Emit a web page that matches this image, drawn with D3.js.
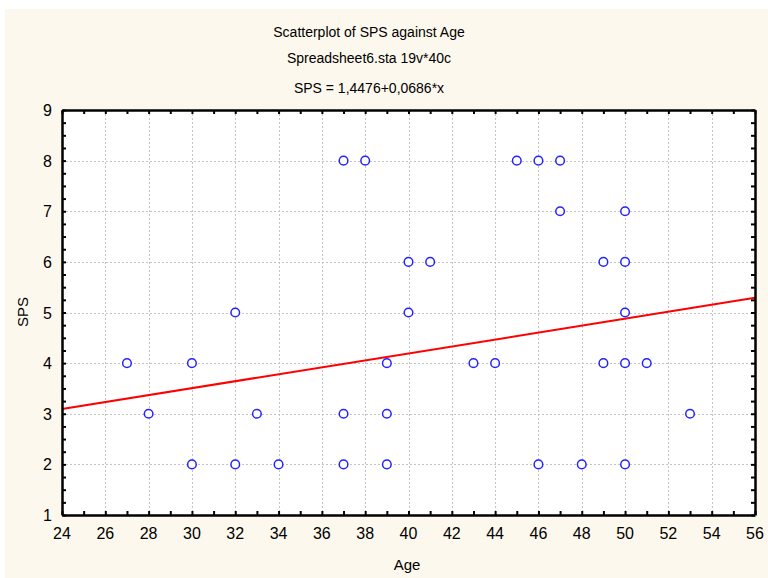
<!DOCTYPE html>
<html>
<head>
<meta charset="utf-8">
<script src="https://cdn.jsdelivr.net/npm/d3@7"></script>
<style>
  html, body { margin: 0; padding: 0; background: #ffffff; }
  svg { display: block; }
  text { font-family: "Liberation Sans", Arial, sans-serif; fill: #000; }
</style>
</head>
<body>
<script>
// Age / SPS observations
const age = [27, 28, 30, 30, 32, 32, 33, 34, 37, 38, 37, 37, 39, 39, 39, 40, 41, 40,
             43, 44, 45, 46, 47, 47, 46, 48, 49, 50, 50, 50, 49, 50, 51, 50, 53];
const sps = [4, 3, 4, 2, 5, 2, 3, 2, 8, 8, 3, 2, 4, 3, 2, 6, 6, 5,
             4, 4, 8, 8, 8, 7, 2, 2, 6, 7, 6, 5, 4, 4, 4, 2, 3];

// Fitted line SPS = a + b*x
const intercept = 1.4476;
const slope = 0.0686;

const xTicks = [24, 26, 28, 30, 32, 34, 36, 38, 40, 42, 44, 46, 48, 50, 52, 54, 56];
const yTicks = [1, 2, 3, 4, 5, 6, 7, 8, 9];
const titleLines = ["Scatterplot of SPS against Age", "Spreadsheet6.sta 19v*40c", "SPS = 1,4476+0,0686*x"];

const W = 768, H = 578;
const plot = { left: 62, right: 755, top: 110, bottom: 515 };

const svg = d3.select("body").append("svg").attr("width", W).attr("height", H);

// cream canvas
svg.append("rect").attr("x", 5).attr("y", 9).attr("width", W - 5).attr("height", H - 9).attr("fill", "#fdf8ed");

const x = d3.scaleLinear().domain([24, 56]).range([plot.left, plot.right]);
const y = d3.scaleLinear().domain([1, 9]).range([plot.bottom, plot.top]);

// plot area
svg.append("rect")
  .attr("x", plot.left).attr("y", plot.top)
  .attr("width", plot.right - plot.left).attr("height", plot.bottom - plot.top)
  .attr("fill", "#ffffff");

// grid
const grid = svg.append("g").attr("stroke", "#c4c4c4").attr("stroke-width", 1).attr("stroke-dasharray", "2,2");
grid.selectAll("line.vx").data(xTicks.slice(1, -1)).join("line")
  .attr("x1", d => Math.round(x(d)) + 0.5).attr("x2", d => Math.round(x(d)) + 0.5)
  .attr("y1", plot.top).attr("y2", plot.bottom);
grid.selectAll("line.hy").data(yTicks.slice(1, -1)).join("line")
  .attr("y1", d => Math.round(y(d)) + 0.5).attr("y2", d => Math.round(y(d)) + 0.5)
  .attr("x1", plot.left).attr("x2", plot.right);

// regression line
svg.append("line")
  .attr("x1", x(24)).attr("y1", y(intercept + slope * 24))
  .attr("x2", x(56)).attr("y2", y(intercept + slope * 56))
  .attr("stroke", "#ff0000").attr("stroke-width", 2);

// points
svg.append("g").selectAll("circle").data(age.map((a, i) => [a, sps[i]])).join("circle")
  .attr("cx", d => x(d[0])).attr("cy", d => y(d[1])).attr("r", 4.3)
  .attr("fill", "#ffffff").attr("stroke", "#2323ff").attr("stroke-width", 1.5);

// axes: ticks inward on all four sides
const minorX = d3.range(24, 57, 1);
const minorY = d3.range(1, 9.01, 0.25);
const tickLen = 4;

const bottomAxis = d3.axisBottom(x).tickValues(minorX).tickSizeInner(-tickLen).tickSizeOuter(0).tickFormat("");
const topAxis = d3.axisTop(x).tickValues(minorX).tickSizeInner(-tickLen).tickSizeOuter(0).tickFormat("");
const leftAxis = d3.axisLeft(y).tickValues(minorY).tickSizeInner(-tickLen).tickSizeOuter(0).tickFormat("");
const rightAxis = d3.axisRight(y).tickValues(minorY).tickSizeInner(-tickLen).tickSizeOuter(0).tickFormat("");

function styleAxis(g) {
  g.select(".domain").attr("stroke", "#000").attr("stroke-width", 2.5);
  g.selectAll(".tick line").attr("stroke", "#000").attr("stroke-width", 2);
}
svg.append("g").attr("transform", `translate(0,${plot.bottom})`).call(bottomAxis).call(styleAxis);
svg.append("g").attr("transform", `translate(0,${plot.top})`).call(topAxis).call(styleAxis);
svg.append("g").attr("transform", `translate(${plot.left},0)`).call(leftAxis).call(styleAxis);
svg.append("g").attr("transform", `translate(${plot.right},0)`).call(rightAxis).call(styleAxis);

// tick labels
svg.append("g").selectAll("text").data(xTicks).join("text")
  .attr("x", d => x(d)).attr("y", 539).attr("text-anchor", "middle")
  .attr("font-size", 16).text(d => d);
svg.append("g").selectAll("text").data(yTicks).join("text")
  .attr("x", 52).attr("y", d => y(d) + 6).attr("text-anchor", "end")
  .attr("font-size", 16).text(d => d);

// axis titles
svg.append("text").attr("x", 407).attr("y", 570).attr("text-anchor", "middle").attr("font-size", 15).text("Age");
svg.append("text").attr("transform", "translate(28,312) rotate(-90)").attr("text-anchor", "middle").attr("font-size", 15).text("SPS");

// titles
const titleY = [37, 63, 93];
svg.append("g").selectAll("text").data(titleLines).join("text")
  .attr("x", 369).attr("y", (d, i) => titleY[i]).attr("text-anchor", "middle")
  .attr("font-size", 14).text(d => d);
</script>
</body>
</html>
